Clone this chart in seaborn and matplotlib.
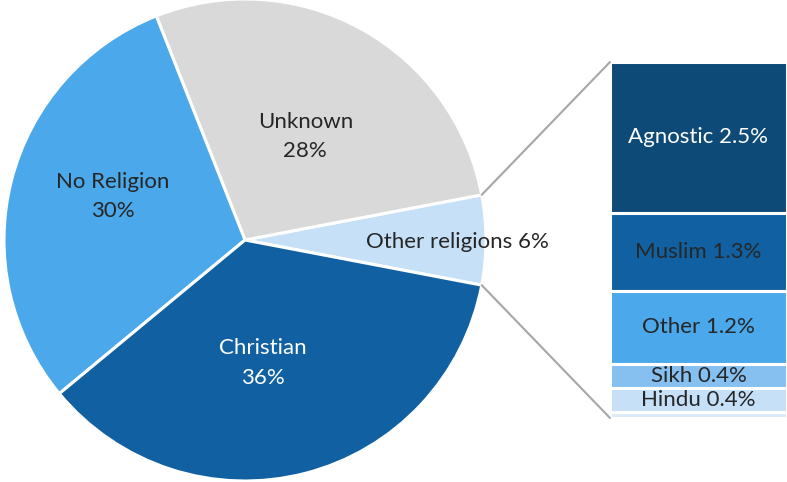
import matplotlib
matplotlib.use('Agg')

import numpy as np
import matplotlib.pyplot as plt
from matplotlib.patches import ConnectionPatch
import seaborn as sns

# pie: main groups (counter-clockwise from the right)
pie_labels = ['Other religions', 'Unknown', 'No Religion', 'Christian']
pie_values = [6, 28, 30, 36]
pie_colors = ['#C5E0F7', '#D9D9D9', '#4BA8EA', '#1161A2']

# bar: breakdown of "Other religions", top to bottom
bar_labels = ['Agnostic', 'Muslim', 'Other', 'Sikh', 'Hindu', '']
bar_values = [2.5, 1.3, 1.2, 0.4, 0.4, 0.1]
bar_colors = ['#0E4A78', '#1161A2', '#4BA8EA', '#85C0F0', '#C5E0F7', '#DDEBF9']

sns.set_theme(style='white')
plt.rcParams['font.family'] = ['Lato', 'DejaVu Sans']

W, H = 787, 482
fig = plt.figure(figsize=(W / 100, H / 100), dpi=100)
fig.patch.set_facecolor('white')

# pie axes, square in pixels
cx, cy, r = 245, 240, 241
ax1 = fig.add_axes([(cx - r) / W, (H - cy - r) / H, 2 * r / W, 2 * r / H])
start = -pie_values[0] / 100 * 360 / 2
wedges, _ = ax1.pie(pie_values, colors=pie_colors, startangle=start, counterclock=True,
                    wedgeprops=dict(edgecolor='white', linewidth=2.2), radius=1)
ax1.set_xlim(-1, 1)
ax1.set_ylim(-1, 1)
ax1.set_aspect('equal')
ax1.axis('off')

txt = '#262626'
fs = 16
pie_text_pos = [(0.88, -0.01), (0.25, 0.43), (-0.55, 0.18), (0.075, -0.51)]
for lab, val, (x, y) in zip(pie_labels, pie_values, pie_text_pos):
    if lab == 'Other religions':
        s = f'{lab} {val}%'
    else:
        s = f'{lab}\n{val}%'
    col = 'white' if lab == 'Christian' else txt
    ax1.text(x, y, s, ha='center', va='center', fontsize=fs, color=col, linespacing=1.6)

# stacked bar
bx0, bx1, by0, by1 = 610, 787, 62, 418
ax2 = fig.add_axes([bx0 / W, (H - by1) / H, (bx1 - bx0) / W, (by1 - by0) / H])
total = sum(bar_values)
tops = total - np.concatenate([[0], np.cumsum(bar_values)[:-1]])
bottoms = tops - np.array(bar_values)
ax2.bar([0] * len(bar_values), bar_values, bottom=bottoms, width=1, color=bar_colors,
        edgecolor='white', linewidth=2.2)
ax2.set_xlim(-0.5, 0.5)
ax2.set_ylim(0, total)
ax2.axis('off')
for lab, val, b, col in zip(bar_labels, bar_values, bottoms, bar_colors):
    if not lab:
        continue
    tc = 'white' if lab == 'Agnostic' else txt
    ax2.text(0, b + val / 2, f'{lab} {val}%', ha='center', va='center', fontsize=fs, color=tc)

# connector lines from the "Other religions" wedge to the bar
w = wedges[0]
for ang, yb in [(w.theta2, total), (w.theta1, 0)]:
    x = np.cos(np.radians(ang))
    y = np.sin(np.radians(ang))
    con = ConnectionPatch(xyA=(x, y), coordsA=ax1.transData, xyB=(-0.5, yb), coordsB=ax2.transData,
                          color='#A6A6A6', linewidth=1.5)
    fig.add_artist(con)

fig.savefig('out.png', dpi=100, facecolor='white')
